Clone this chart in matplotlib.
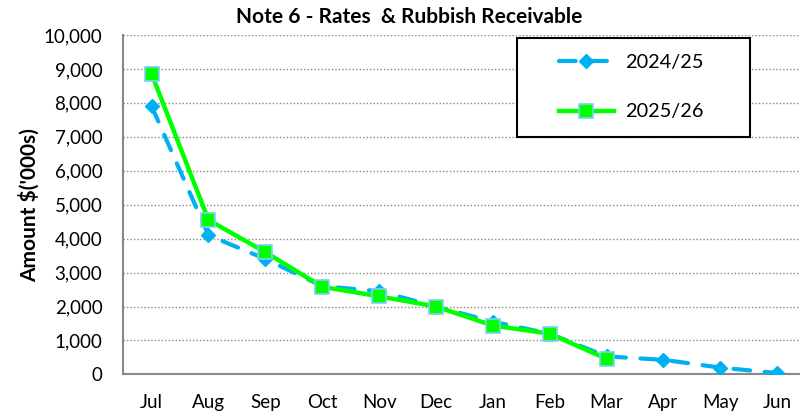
import matplotlib
matplotlib.use("Agg")
import matplotlib.pyplot as plt
from matplotlib.patches import Rectangle
from matplotlib.ticker import FuncFormatter

plt.rcParams['font.family'] = ['Lato', 'DejaVu Sans']

months = ['Jul', 'Aug', 'Sep', 'Oct', 'Nov', 'Dec', 'Jan', 'Feb', 'Mar', 'Apr', 'May', 'Jun']
fy2425 = [7900, 4100, 3400, 2600, 2450, 2000, 1550, 1200, 530, 430, 200, 40]
fy2526 = [8850, 4550, 3600, 2580, 2300, 2000, 1440, 1200, 460]

blue = '#00B0F0'
green = '#00FF00'

fig = plt.figure(figsize=(8, 4.16), dpi=100)
ax = fig.add_axes([0.154, 0.1, 0.853, 0.816])

x = list(range(len(months)))
ax.plot(x, fy2425, color=blue, lw=3, dashes=(4, 3.5), dash_capstyle='round',
        marker='D', markersize=7.5, markerfacecolor=blue, markeredgecolor=blue,
        label='2024/25', zorder=3)
ax.plot(x[:len(fy2526)], fy2526, color=green, lw=3.2,
        marker='s', markersize=10.5, markerfacecolor=green, markeredgecolor='#7fd0f5',
        markeredgewidth=1.2, label='2025/26', zorder=4)

ax.set_xlim(-0.5, 11.5)
ax.set_ylim(0, 10000)
ax.set_yticks(range(0, 10001, 1000))
ax.yaxis.set_major_formatter(FuncFormatter(lambda v, p: f'{int(v):,}'))
ax.set_xticks(x)
ax.set_xticklabels(months)
ax.tick_params(axis='both', length=0, labelsize=13.5)
ax.tick_params(axis='x', pad=14)
ax.tick_params(axis='y', pad=15)
ax.grid(axis='y', color='#888888', linestyle=(0, (1, 1.5)), lw=1)
ax.set_axisbelow(True)

for s in ['top', 'right']:
    ax.spines[s].set_visible(False)
for s in ['left', 'bottom']:
    ax.spines[s].set_color('#888888')
    ax.spines[s].set_linewidth(1.5)

ax.set_ylabel("Amount $('000s)", fontsize=15, fontweight='bold', labelpad=3)
fig.text(0.511, 0.96, 'Note 6 - Rates  & Rubbish Receivable', fontsize=15,
         fontweight='bold', ha='center', va='center')

# legend box drawn separately so it can be wider than matplotlib's padding allows
ax.add_patch(Rectangle((0.577, 0.699), 0.342, 0.292, transform=ax.transAxes,
                       facecolor='white', edgecolor='black', lw=1.5, zorder=5))
leg = ax.legend(loc='upper left', bbox_to_anchor=(0.6385, 0.943), fontsize=14.3,
                frameon=False, borderpad=0, labelspacing=1.62, handlelength=2.75,
                borderaxespad=0, handletextpad=0.57)
leg.set_zorder(6)

fig.savefig('out.png', dpi=100)
